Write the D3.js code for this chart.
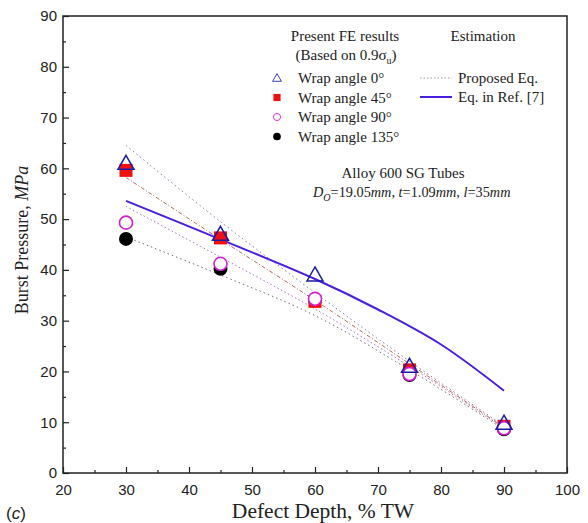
<html>
<head>
<meta charset="UTF-8">
<title>Burst pressure</title>
<script src="https://cdnjs.cloudflare.com/ajax/libs/d3/7.8.5/d3.min.js"></script>
<style>
  body { margin: 0; background: #fff; }
  .tick text { font-family: "Liberation Sans", Arial, sans-serif; font-size: 15px; fill: #222; }
  .serif { font-family: "Liberation Serif", "Times New Roman", serif; fill: #222; }
</style>
</head>
<body>
<div id="chart"></div>
<script>
// defect depth (% TW)
var depths = [30, 45, 60, 75, 90];

// FE results, burst pressure MPa
var wrap0   = [61.0, 47.0, 39.0, 21.0, 9.8];
var wrap45  = [59.6, 46.3, 33.8, 20.3, 9.2];
var wrap90  = [49.3, 41.2, 34.3, 19.5, 8.8];
var wrap135 = [46.1, 40.2, 34.0, 19.3, 8.6];

// proposed eq. curves, one per wrap angle
var prop0   = [64.5, 49.5, 35.5, 22.0, 9.3];
var prop45  = [58.2, 46.0, 34.0, 21.5, 9.0];
var prop90  = [52.5, 42.5, 32.3, 21.0, 8.8];
var prop135 = [46.5, 39.0, 31.0, 20.3, 8.6];

// eq. in ref [7]
var refX = [30, 45, 60, 70, 80, 90];
var refY = [53.6, 46.0, 38.2, 32.2, 25.3, 16.2];

var xTicks = [20, 30, 40, 50, 60, 70, 80, 90, 100];
var yTicks = [0, 10, 20, 30, 40, 50, 60, 70, 80, 90];

var width = 588, height = 523;
var pLeft = 63, pRight = 567, pTop = 16, pBottom = 473;

var svg = d3.select("#chart").append("svg")
    .attr("width", width)
    .attr("height", height);

var x = d3.scaleLinear().domain([20, 100]).range([pLeft, pRight]);
var y = d3.scaleLinear().domain([0, 90]).range([pBottom, pTop]);

// frame
svg.append("rect")
    .attr("x", pLeft).attr("y", pTop)
    .attr("width", pRight - pLeft).attr("height", pBottom - pTop)
    .attr("fill", "none").attr("stroke", "#222").attr("stroke-width", 1.5);

// axes, ticks inward
svg.append("g").attr("transform", "translate(0," + pBottom + ")")
    .call(d3.axisBottom(x).tickValues(xTicks).tickSize(-6).tickPadding(11));
svg.append("g").attr("transform", "translate(0," + pBottom + ")")
    .call(d3.axisBottom(x).tickValues(d3.range(25, 100, 10)).tickSize(-3).tickFormat(""));
svg.append("g").attr("transform", "translate(" + pLeft + ",0)")
    .call(d3.axisLeft(y).tickValues(yTicks).tickSize(-6).tickPadding(6));
svg.append("g").attr("transform", "translate(" + pLeft + ",0)")
    .call(d3.axisLeft(y).tickValues(d3.range(5, 90, 10)).tickSize(-3).tickFormat(""));
svg.selectAll(".domain").remove();
svg.selectAll(".tick line").attr("stroke", "#222").attr("stroke-width", 1.2);

// axis titles
svg.append("text").attr("class", "serif")
    .attr("x", 323).attr("y", 518)
    .attr("text-anchor", "middle").style("font-size", "21.5px")
    .text("Defect Depth, % TW");

var yt = svg.append("text").attr("class", "serif")
    .attr("transform", "translate(28,240) rotate(-90)")
    .attr("text-anchor", "middle").style("font-size", "18px");
yt.append("tspan").text("Burst Pressure, ");
yt.append("tspan").style("font-style", "italic").text("MPa");

svg.append("text")
    .attr("x", 6).attr("y", 519)
    .style("font-family", "Liberation Sans, Arial, sans-serif")
    .style("font-size", "17px").attr("fill", "#222")
    .html("(<tspan font-style='italic'>c</tspan>)");

// proposed eq lines
var line = d3.line().x(function(d) { return x(d[0]); }).y(function(d) { return y(d[1]); })
    .curve(d3.curveCatmullRom);

var props = [
  { v: prop0,   color: "#8a7aa8", dash: "1.5,3" },
  { v: prop45,  color: "#b06a55", dash: "4,2,1,2" },
  { v: prop90,  color: "#b070c0", dash: "1.5,2.5" },
  { v: prop135, color: "#707070", dash: "1.5,3" }
];
props.forEach(function(p) {
  svg.append("path")
      .datum(depths.map(function(d, i) { return [d, p.v[i]]; }))
      .attr("d", line)
      .attr("fill", "none")
      .attr("stroke", p.color)
      .attr("stroke-width", 1)
      .attr("stroke-dasharray", p.dash);
});

// ref [7] line
svg.append("path")
    .datum(refX.map(function(d, i) { return [d, refY[i]]; }))
    .attr("d", line)
    .attr("fill", "none")
    .attr("stroke", "#4a1ee0")
    .attr("stroke-width", 2);

// markers
function drawMarker(g, type, cx, cy) {
  if (type == "tri") {
    g.append("path").attr("transform", "translate(" + cx + "," + cy + ")")
      .attr("d", "M0,-8L8,6L-8,6Z")
      .attr("fill", "none").attr("stroke", "#1a1aa8").attr("stroke-width", 1.5);
  } else if (type == "sq") {
    g.append("rect").attr("x", cx - 6.5).attr("y", cy - 6.5).attr("width", 13).attr("height", 13)
      .attr("fill", "#f01010");
  } else if (type == "oc") {
    g.append("circle").attr("cx", cx).attr("cy", cy).attr("r", 6.5)
      .attr("fill", "#fff").attr("stroke", "#d020d0").attr("stroke-width", 1.6);
  } else {
    g.append("circle").attr("cx", cx).attr("cy", cy).attr("r", 7).attr("fill", "#000");
  }
}

var series = [
  { v: wrap135, type: "dot" },
  { v: wrap45,  type: "sq" },
  { v: wrap90,  type: "oc" },
  { v: wrap0,   type: "tri" }
];
var marks = svg.append("g");
series.forEach(function(s) {
  depths.forEach(function(d, i) { drawMarker(marks, s.type, x(d), y(s.v[i])); });
});

// legend
function serifText(tx, ty, str, size, anchor) {
  return svg.append("text").attr("class", "serif")
      .attr("x", tx).attr("y", ty)
      .attr("text-anchor", anchor || "start")
      .style("font-size", (size || 15) + "px")
      .text(str);
}
serifText(345, 41, "Present FE results", 15, "middle");
var b = serifText(346, 60, "", 15, "middle");
b.append("tspan").text("(Based on 0.9σ");
b.append("tspan").attr("dy", 4).style("font-size", "10px").text("u");
b.append("tspan").attr("dy", -4).text(")");
serifText(483, 41, "Estimation", 15, "middle");

var legItems = [
  { type: "tri", label: "Wrap angle 0°" },
  { type: "sq",  label: "Wrap angle 45°" },
  { type: "oc",  label: "Wrap angle 90°" },
  { type: "dot", label: "Wrap angle 135°" }
];
var leg = svg.append("g");
legItems.forEach(function(it, i) {
  var ly = 78 + i * 19.5;
  var lg = leg.append("g").attr("transform", "translate(" + 277 + "," + ly + ") scale(0.55)");
  drawMarker(lg, it.type, 0, 0);
  serifText(298, ly + 5, it.label, 15);
});

svg.append("line").attr("x1", 420).attr("x2", 452).attr("y1", 78).attr("y2", 78)
    .attr("stroke", "#999").attr("stroke-width", 1).attr("stroke-dasharray", "1.5,2");
serifText(458, 83, "Proposed Eq.", 15);
svg.append("line").attr("x1", 420).attr("x2", 452).attr("y1", 97).attr("y2", 97)
    .attr("stroke", "#4a1ee0").attr("stroke-width", 2);
serifText(458, 102, "Eq. in Ref. [7]", 15);

serifText(403, 178, "Alloy 600 SG Tubes", 15, "middle");
var spec = serifText(313, 197, "", 14.3);
spec.append("tspan").style("font-style", "italic").text("D");
spec.append("tspan").attr("dy", 4).style("font-size", "10px").style("font-style", "italic").text("O");
spec.append("tspan").attr("dy", -4).text("=19.05");
spec.append("tspan").style("font-style", "italic").text("mm");
spec.append("tspan").text(",  ");
spec.append("tspan").style("font-style", "italic").text("t");
spec.append("tspan").text("=1.09");
spec.append("tspan").style("font-style", "italic").text("mm");
spec.append("tspan").text(", ");
spec.append("tspan").style("font-style", "italic").text("l");
spec.append("tspan").text("=35");
spec.append("tspan").style("font-style", "italic").text("mm");
</script>
</body>
</html>
